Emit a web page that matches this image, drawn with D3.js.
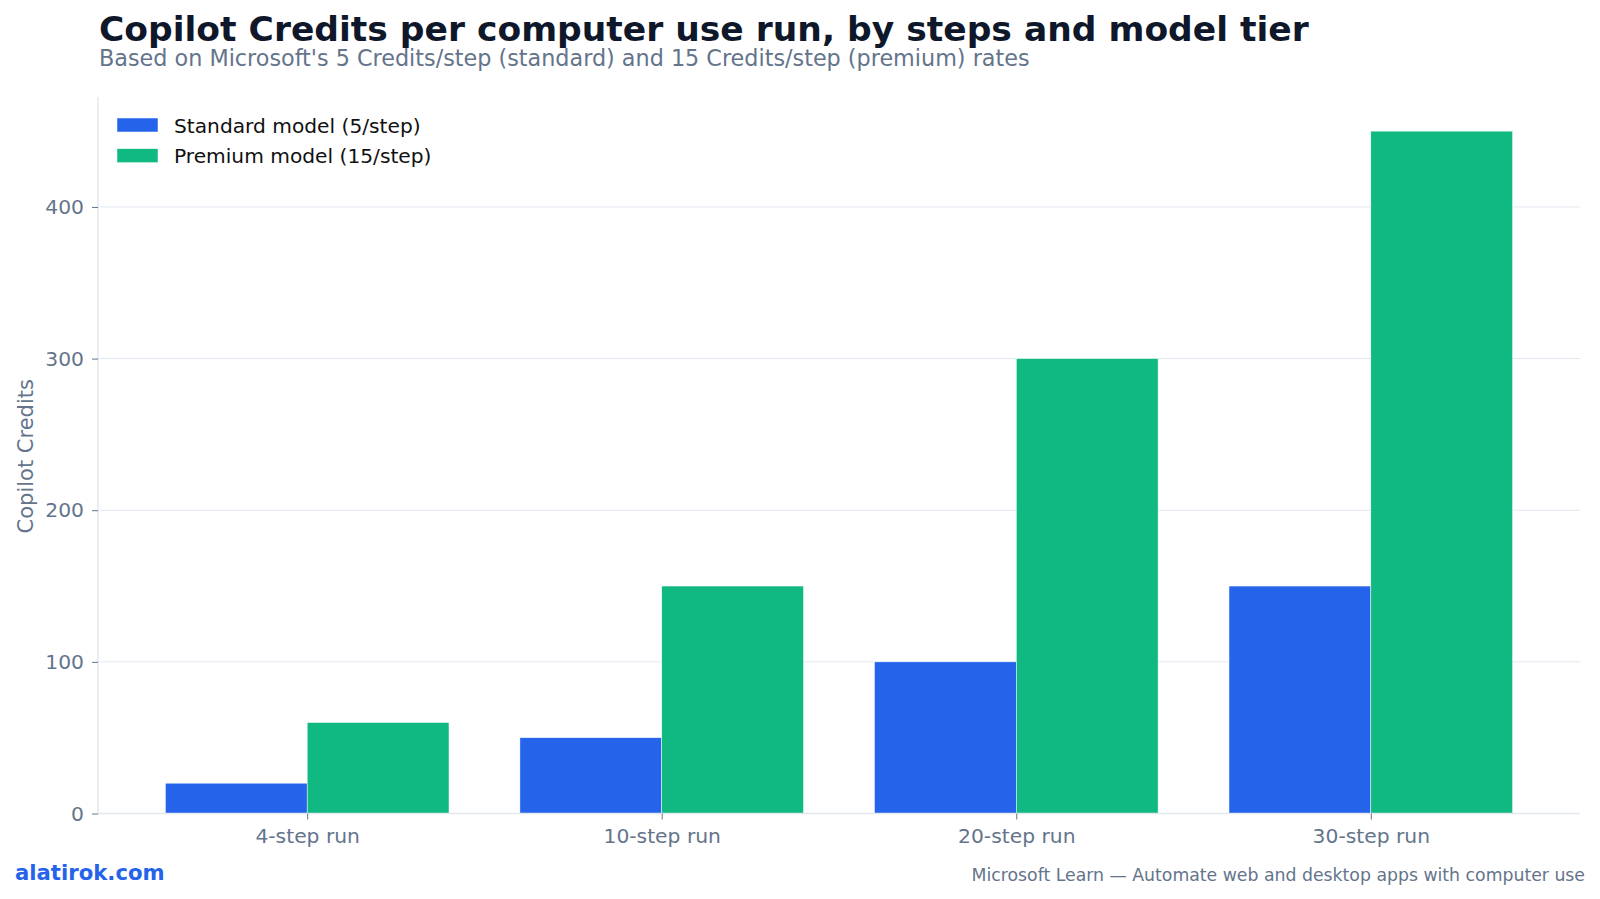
<!DOCTYPE html>
<html>
<head>
<meta charset="utf-8">
<script src="https://cdn.jsdelivr.net/npm/d3@7"></script>
<style>
  html, body { margin: 0; padding: 0; background: #ffffff; }
  svg { display: block; font-family: "DejaVu Sans", sans-serif; }
</style>
</head>
<body>
<svg id="chart" width="1600" height="899"></svg>
<script>
const categories = ["4-step run", "10-step run", "20-step run", "30-step run"];
const standardValues = [20, 50, 100, 150];
const premiumValues = [60, 150, 300, 450];
const seriesNames = ["Standard model (5/step)", "Premium model (15/step)"];
const seriesColors = ["#2563eb", "#10b981"];
const yTicks = [0, 100, 200, 300, 400];

(function () {
const svg = d3.select("#chart");
const pLeft = 98, pRight = 1580, pTop = 97, pBottom = 813.5;
const tickFont = 20.3;

const x = d3.scaleLinear().domain([-0.59, categories.length - 1 + 0.59]).range([pLeft, pRight]);
const y = d3.scaleLinear().domain([0, 472.5]).range([pBottom, pTop]);
const barW = 0.4;

// grid
svg.append("g").selectAll("line").data(yTicks.filter(d => d > 0)).join("line")
  .attr("x1", pLeft).attr("x2", pRight)
  .attr("y1", d => y(d)).attr("y2", d => y(d))
  .attr("stroke", "#e2e8f0").attr("stroke-width", 1);

const series = [standardValues, premiumValues];
series.forEach((vals, si) => {
  svg.append("g").selectAll("rect").data(vals).join("rect")
    .attr("x", (d, i) => x(i + (si === 0 ? -barW : 0)))
    .attr("width", x(barW) - x(0))
    .attr("y", d => y(d))
    .attr("height", d => y(0) - y(d))
    .attr("fill", seriesColors[si])
    .attr("stroke", "#ffffff").attr("stroke-width", 0.5);
});

// axes
const yAxis = d3.axisLeft(y).tickValues(yTicks).tickSize(6).tickPadding(8).tickFormat(d3.format("d"));
const gy = svg.append("g").attr("transform", `translate(${pLeft},0)`).call(yAxis);
gy.select(".domain").attr("stroke", "#e2e8f0").attr("stroke-width", 1.5).attr("d", `M0,${pBottom}V${pTop}`);
gy.selectAll(".tick line").attr("stroke", "#64748b").attr("stroke-width", 1);
gy.selectAll(".tick text").attr("fill", "#64748b").attr("font-size", tickFont).attr("font-family", "DejaVu Sans");

const xAxis = d3.axisBottom(x).tickValues(d3.range(categories.length)).tickFormat(i => categories[i]).tickSize(6).tickPadding(9);
const gx = svg.append("g").attr("transform", `translate(0,${pBottom})`).call(xAxis);
gx.select(".domain").attr("stroke", "#e2e8f0").attr("stroke-width", 1.5).attr("d", `M${pLeft},0H${pRight}`);
gx.selectAll(".tick line").attr("stroke", "#64748b").attr("stroke-width", 1);
gx.selectAll(".tick text").attr("fill", "#64748b").attr("font-size", tickFont).attr("font-family", "DejaVu Sans");

// y label
svg.append("text")
  .attr("transform", `translate(33,${(pTop + pBottom) / 2 + 1}) rotate(-90)`)
  .attr("text-anchor", "middle")
  .attr("fill", "#64748b").attr("font-size", 21)
  .text("Copilot Credits");

// title
svg.append("text").attr("x", 99).attr("y", 41)
  .attr("fill", "#0f172a").attr("font-size", 34.5).attr("font-weight", "bold")
  .text("Copilot Credits per computer use run, by steps and model tier");
svg.append("text").attr("x", 99).attr("y", 66)
  .attr("fill", "#64748b").attr("font-size", 22.3)
  .text("Based on Microsoft's 5 Credits/step (standard) and 15 Credits/step (premium) rates");

// legend
const lg = svg.append("g");
seriesNames.forEach((name, i) => {
  const yy = 118 + i * 30.7;
  lg.append("rect").attr("x", 117).attr("y", yy).attr("width", 41).attr("height", 14)
    .attr("fill", seriesColors[i]).attr("stroke", "#ffffff").attr("stroke-width", 0.5);
  lg.append("text").attr("x", 174).attr("y", yy + 14.5)
    .attr("fill", "#111111").attr("font-size", 20.2)
    .text(name);
});

// footer
svg.append("text").attr("x", 15).attr("y", 880)
  .attr("fill", "#2563eb").attr("font-size", 21.2).attr("font-weight", "bold")
  .text("alatirok.com");
svg.append("text").attr("x", 1585).attr("y", 881).attr("text-anchor", "end")
  .attr("fill", "#64748b").attr("font-size", 17.3)
  .text("Microsoft Learn — Automate web and desktop apps with computer use");
})();
</script>
</body>
</html>
